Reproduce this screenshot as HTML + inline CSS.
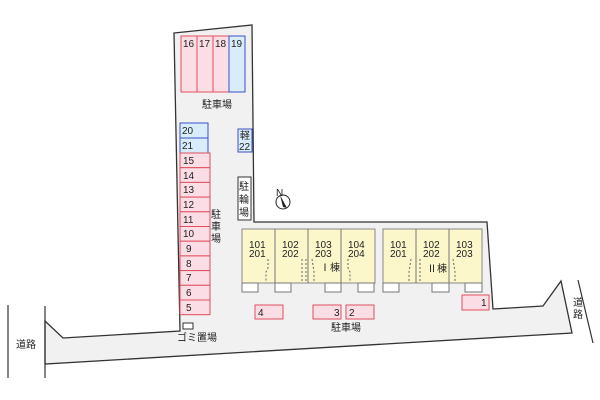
<!DOCTYPE html>
<html><head><meta charset="utf-8"><style>
html,body{margin:0;padding:0;background:#fff;}
svg{display:block;}
text{font-family:"Liberation Sans","Noto Sans CJK JP",sans-serif;font-size:10px;fill:#222;}
</style></head><body>
<svg width="600" height="400" viewBox="0 0 600 400" xmlns="http://www.w3.org/2000/svg">
<!-- lot -->
<polygon points="174,33 252,25 254,222 487,222 493,309 543,306 561,281 572,333 45,364 45,321 63,338 180,331" fill="#f1f1f1" stroke="#333" stroke-width="1.3"/>
<line x1="45" y1="306" x2="45" y2="378" stroke="#333" stroke-width="1.2"/>
<line x1="8" y1="305" x2="8" y2="378" stroke="#333" stroke-width="1.2"/>
<line x1="578" y1="280" x2="593" y2="343" stroke="#333" stroke-width="1.2"/>
<text x="16" y="348" font-size="9">道路</text>
<text x="573" y="306" font-size="9">道</text>
<text x="573" y="318" font-size="9">路</text>

<!-- top parking 16-19 -->
<g stroke-width="1">
<rect x="181" y="36" width="16" height="56" fill="#fbdde5" stroke="#e0505f"/>
<rect x="197" y="36" width="16" height="56" fill="#fbdde5" stroke="#e0505f"/>
<rect x="213" y="36" width="16" height="56" fill="#fbdde5" stroke="#e0505f"/>
<rect x="229" y="36" width="16" height="56" fill="#d8ecfb" stroke="#3b4fc4"/>
</g>
<text x="183" y="47">16</text><text x="199" y="47">17</text><text x="215" y="47">18</text><text x="231" y="47">19</text>
<text x="202" y="108">駐車場</text>

<!-- left column -->
<rect x="180" y="123" width="28" height="15" fill="#d8ecfb" stroke="#3b4fc4"/>
<rect x="180" y="138" width="28" height="15" fill="#d8ecfb" stroke="#3b4fc4"/>
<text x="182" y="134">20</text><text x="182" y="149">21</text>
<g fill="#fbdde5" stroke="#e0505f">
<rect x="180" y="153" width="30" height="14.7"/>
<rect x="180" y="167.7" width="30" height="14.7"/>
<rect x="180" y="182.4" width="30" height="14.7"/>
<rect x="180" y="197.1" width="30" height="14.7"/>
<rect x="180" y="211.8" width="30" height="14.7"/>
<rect x="180" y="226.5" width="30" height="14.7"/>
<rect x="180" y="241.2" width="30" height="14.7"/>
<rect x="180" y="255.9" width="30" height="14.7"/>
<rect x="180" y="270.6" width="30" height="14.7"/>
<rect x="180" y="285.3" width="30" height="14.7"/>
<rect x="180" y="300" width="30" height="14.7"/>
</g>
<text x="183" y="164">15</text><text x="183" y="179">14</text><text x="183" y="193">13</text>
<text x="183" y="208">12</text><text x="183" y="223">11</text><text x="183" y="237">10</text>
<text x="186" y="252">9</text><text x="186" y="267">8</text><text x="186" y="281">7</text>
<text x="186" y="296">6</text><text x="186" y="311">5</text>
<text x="211" y="218">駐</text><text x="211" y="230">車</text><text x="211" y="242">場</text>

<rect x="238" y="129" width="14" height="23" fill="#d8ecfb" stroke="#3b4fc4"/>
<text x="240" y="139" font-size="9">軽</text><text x="239" y="150" font-size="9">22</text>
<rect x="238" y="177" width="13" height="43" fill="#fff" stroke="#333"/>
<text x="239" y="190" font-size="9">駐</text><text x="239" y="203" font-size="9">輪</text><text x="239" y="216" font-size="9">場</text>

<!-- north -->
<circle cx="283" cy="202" r="7" fill="#fff" stroke="#222"/>
<polygon points="280,195 287,208 283,207" fill="#222"/>
<text x="276" y="196" font-size="7">N</text>

<!-- gomi -->
<rect x="183" y="323" width="10" height="6" fill="#fff" stroke="#333"/>
<text x="177" y="341" font-size="9">ゴミ置場</text>

<!-- Building I -->
<rect x="242" y="229" width="133" height="54" fill="#fbf7cb" stroke="#888"/>
<line x1="275" y1="229" x2="275" y2="283" stroke="#777"/>
<line x1="308" y1="229" x2="308" y2="283" stroke="#777"/>
<line x1="341" y1="229" x2="341" y2="283" stroke="#777"/>
<g fill="#fff" stroke="#777">
<rect x="242" y="283" width="16" height="9"/><rect x="275" y="283" width="16" height="9"/>
<rect x="325" y="283" width="16" height="9"/><rect x="358" y="283" width="16" height="9"/>
</g>
<g fill="none" stroke="#666" stroke-dasharray="2,2">
<path d="M268,259 L268,268 L266,272 L266,283"/><path d="M302,259 L302,283"/><path d="M306,259 L306,283"/>
<path d="M312,259 L314,272 L314,283"/><path d="M348,259 L348,268 L350,272 L350,283"/>
</g>
<text x="249" y="248">101</text><text x="249" y="257">201</text>
<text x="282" y="248">102</text><text x="282" y="257">202</text>
<text x="315" y="248">103</text><text x="315" y="257">203</text>
<text x="348" y="248">104</text><text x="348" y="257">204</text>
<text x="320" y="271">Ⅰ棟</text>

<!-- Building II -->
<rect x="383" y="229" width="99" height="54" fill="#fbf7cb" stroke="#888"/>
<line x1="416" y1="229" x2="416" y2="283" stroke="#777"/>
<line x1="449" y1="229" x2="449" y2="283" stroke="#777"/>
<g fill="#fff" stroke="#777">
<rect x="383" y="283" width="16" height="9"/><rect x="432" y="283" width="17" height="9"/><rect x="465" y="283" width="17" height="9"/>
</g>
<g fill="none" stroke="#666" stroke-dasharray="2,2">
<path d="M411,259 L409,272 L409,283"/><path d="M420,259 L420,283"/><path d="M453,259 L455,272 L455,283"/>
</g>
<text x="390" y="248">101</text><text x="390" y="257">201</text>
<text x="423" y="248">102</text><text x="423" y="257">202</text>
<text x="456" y="248">103</text><text x="456" y="257">203</text>
<text x="427" y="272">Ⅱ棟</text>

<!-- bottom parking -->
<g fill="#fbdde5" stroke="#e0505f">
<rect x="255" y="305" width="28" height="14"/><rect x="313" y="305" width="28" height="14"/>
<rect x="346" y="305" width="28" height="14"/><rect x="462" y="295" width="27" height="15"/>
</g>
<text x="258" y="316">4</text><text x="334" y="316">3</text><text x="349" y="316">2</text><text x="481" y="306">1</text>
<text x="331" y="331">駐車場</text>
</svg>
</body></html>
